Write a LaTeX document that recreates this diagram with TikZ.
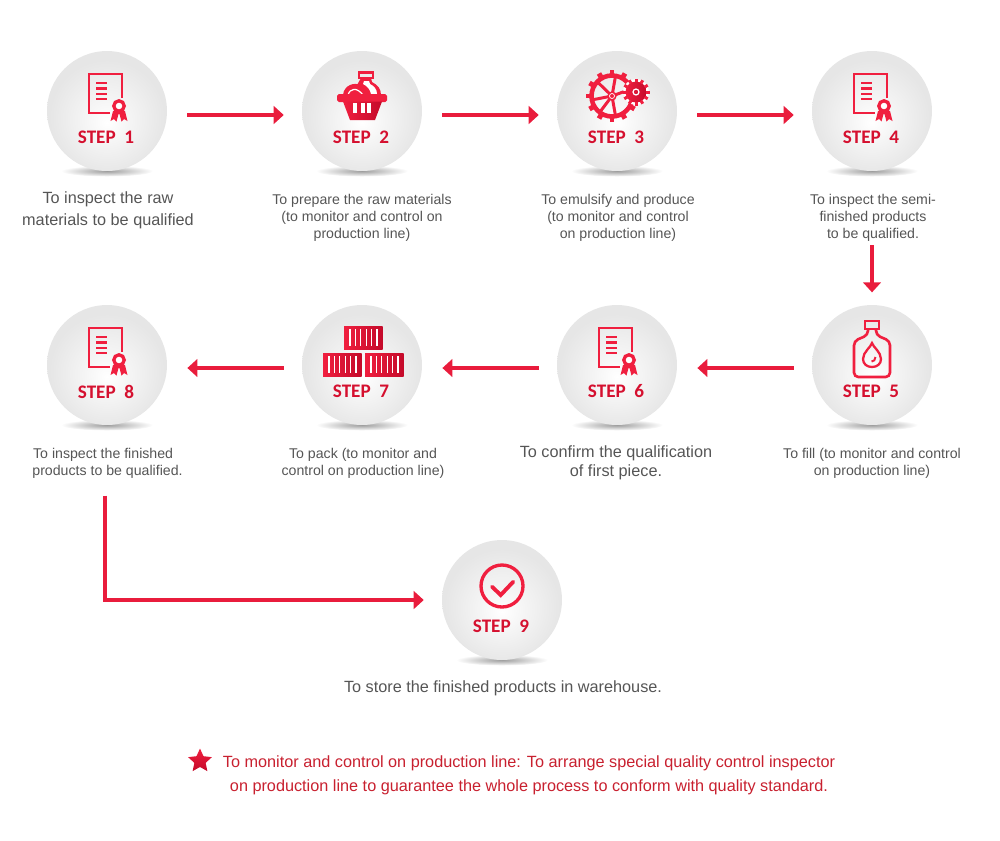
\documentclass[tikz,border=0pt]{standalone}
\usepackage{fontspec}
\setmainfont{Liberation Sans}
\newfontfamily\stepfont{Carlito}
\usetikzlibrary{arrows.meta,shapes.geometric}
\definecolor{flowred}{HTML}{E91C3C}
\definecolor{iconred}{HTML}{F01F3F}
\definecolor{icondark}{HTML}{C40A2A}
\definecolor{steptext}{HTML}{D5102F}
\definecolor{bodygray}{HTML}{555555}
\definecolor{notered}{HTML}{C8202F}
\definecolor{discgray}{HTML}{E6E6E6}
\pgfdeclareradialshading{discshade}{\pgfpoint{0bp}{-5bp}}{color(0bp)=(white); color(9bp)=(white!60!discgray); color(24bp)=(discgray); color(50bp)=(discgray)}
\tikzset{
 stepdisc/.style={circle,minimum size=2.4cm,inner sep=0pt,shading=discshade},
 steplabel/.style={text=steptext,font=\stepfont\bfseries\fontsize{10.9}{12}\selectfont},
 flow/.style={draw=flowred,line width=2.1pt,-{Triangle[length=5.7pt,width=10pt]},shorten <=11.4pt,shorten >=10.2pt},
 backflow/.style={flow,shorten <=10.2pt,shorten >=11.4pt},
 iconline/.style={draw=iconred,line width=1.35pt},
 bigtext/.style={text=bodygray,align=center,font=\fontsize{9.25}{12.5}\selectfont},
 smalltext/.style={text=bodygray,align=center,font=\fontsize{8.05}{9.7}\selectfont},
 notetext/.style={text=notered,align=center,font=\fontsize{9.25}{13.6}\selectfont},
 pics/certicon/.style={code={
  \draw[iconline] (3,2) -- (-18,2) -- (-18,-37) -- (15,-37) -- (15,-13);
  \foreach\lineY in {-28,-22.5,-17,-12}{
   \draw[iconline] (-11,\lineY) -- (0,\lineY);
  }
  \fill[iconred] (6,0) -- (3.5,10) -- (7,8) -- (9.5,10.5) -- (11.5,3) -- (12.5,3) -- (14.5,10.5) -- (17,8) -- (20.5,10) -- (18,0) -- cycle;
  \draw[draw=iconred,fill=white,line width=1.9pt] (12,-5) circle (5.2);
 }},
 pics/basketicon/.style={code={
  \draw[iconline] (-3,-38.5) rectangle (11,-33);
  \fill[iconred] (-1,-33) -- (9,-33) -- (10,-29) .. controls (16,-26) and (19,-22) .. (19,-16) -- (-6,-16) -- (-5,-26) -- cycle;
  \fill[white] (2,-30) -- (7,-30) -- (8,-27) .. controls (12,-25) and (15,-22) .. (15,-17) -- (9,-17) .. controls (8,-22) and (5,-25) .. (1,-27) -- cycle;
  \fill[iconred] (-19,-16) .. controls (-18,-26) and (-8,-29) .. (-1,-26) .. controls (4,-24) and (8,-20) .. (8,-16) -- cycle;
  \draw[white,line width=.7pt] (-14,-16) .. controls (-12,-23) and (-5,-24) .. (1,-16);
  \fill[iconred,rounded corners=1pt] (-25,-17) rectangle (25,-9);
  \shade[left color=iconred,right color=icondark] (-19,-9.5) -- (-12,9) -- (13,9) -- (20,-9.5) -- cycle;
  \foreach\barX in {-9,-1,5}{
   \fill[white] (\barX,-8) rectangle (\barX+3.6,2);
  }
 }},
 pics/gearicon/.style={code={
  \begin{scope}[shift={(-5,-15)}]
   \draw[iconline,line width=2.6pt] (0,0) circle (20.5);
   \foreach\ang in {0,30,...,330}{
    \draw[iconred,line width=2.8pt] (\ang:21) -- (\ang:26);
   }
   \foreach\ang in {80,127,169,224,280,340}{
    \draw[iconred,line width=1.7pt] (\ang:3) -- (\ang:20);
   }
   \draw[iconline,fill=iconred,line width=.7pt] (0,0) circle (4);
   \draw[white,line width=.4pt] (0,0) circle (2.5);
  \end{scope}
  \begin{scope}[shift={(19,-19)}]
   \fill[white] (0,0) circle (13);
   \shade[left color=iconred,right color=icondark] (0,0) circle (10.5);
   \foreach\ang in {0,30,...,330}{
    \draw[iconred,line width=1.7pt] (\ang:10) -- (\ang:13.5);
   }
   \draw[white,line width=.7pt] (0,0) circle (3);
  \end{scope}
 }},
 pics/bottleicon/.style={code={
  \draw[iconline,line width=1.5pt] (-7,-44) rectangle (7,-36);
  \draw[iconline,line width=1.5pt,rounded corners=2.5pt] (-4,-36) -- (-4,-30) -- (-18,-24) -- (-18,12) -- (18,12) -- (18,-24) -- (4,-30) -- (4,-36);
  \draw[iconline,line width=1.3pt] (0,-22) .. controls (-1,-18) and (-9,-13) .. (-9,-6) .. controls (-9,-1) and (-5,2) .. (0,2) .. controls (5,2) and (9,-1) .. (9,-6) .. controls (9,-13) and (1,-18) .. (0,-22) -- cycle;
  \draw[iconline,line width=1.1pt] (3.5,-8) .. controls (3.5,-5) and (1.5,-3.5) .. (-.5,-3.5);
 }},
 pics/crateicon/.style={code={
  \shade[left color=iconred,right color=icondark] (0,0) rectangle (38.5,23);
  \foreach\barX in {6,11.4,...,33}{
   \draw[white,line width=.6pt] (\barX,3) -- (\barX,20);
  }
 }},
 pics/checkicon/.style={code={
  \draw[iconline,line width=1.9pt] (0,-14) circle (21);
  \draw[iconline,line width=2.2pt,line cap=round] (-10,-13.3) -- (-1.3,-5) -- (11.3,-18.3);
 }},
}
\begin{document}
\begin{tikzpicture}[x=0.02cm,y=-0.02cm]
\useasboundingbox (0,0) rectangle (1000,840);
\foreach\n/\x/\y in {1/107/111,2/362/111,3/617/111,4/872/111,5/872/365,6/617/365,7/362/365,8/107/365,9/502/600}{
 \shade[inner color=black!38,outer color=white] (\x,\y+60) ellipse (46 and 5.5);
 \node[stepdisc] (s\n) at (\x,\y) {};
 \node[steplabel] (l\n) at (\x-1,\y+26.5) {STEP\ \ \n};
}
\pic (i1) at (s1) {certicon};
\pic (i2) at (s2) {basketicon};
\pic (i3) at (s3) {gearicon};
\pic (i4) at (s4) {certicon};
\pic (i5) at (s5) {bottleicon};
\pic (i6) at (s6) {certicon};
\pic (i7a) at (344,326) {crateicon};
\pic (i7b) at (323,353) {crateicon};
\pic (i7c) at (365,353) {crateicon};
\pic (i8) at (s8) {certicon};
\pic (i9) at (s9) {checkicon};
\node[bigtext] (t1) at (108,210) {To inspect the raw\\materials to be qualified};
\node[smalltext] (t2) at (362,218) {To prepare the raw materials\\(to monitor and control on\\production line)};
\node[smalltext] (t3) at (618,218) {To emulsify and produce\\(to monitor and control\\on production line)};
\node[smalltext] (t4) at (873,218) {To inspect the semi-\\finished products\\to be qualified.};
\node[smalltext] (t5) at (872,463.5) {To fill (to monitor and control\\on production line)};
\node[bigtext] (t6) at (616,463) {To confirm the qualification\\[-1.7pt]of first piece.};
\node[smalltext] (t7) at (363,463.5) {To pack (to monitor and\\control on production line)};
\node[smalltext] (t8) at (107.5,463.5) {To inspect the finished\hspace*{5pt}\\products to be qualified.};
\node[bigtext] (t9) at (503,688) {To store the finished products in warehouse.};
\node[star,star points=5,star point ratio=2.1,minimum size=.5cm,inner sep=0pt,top color=iconred,bottom color=icondark] (mark) at (200,761) {};
\node[notetext] (note) at (529,775) {To monitor and control on production line: To arrange special quality control inspector\\on production line to guarantee the whole process to conform with quality standard.};
\draw[flow] ([yshift=-.08cm]s1.east) -- ([yshift=-.08cm]s2.west);
\draw[flow] ([yshift=-.08cm]s2.east) -- ([yshift=-.08cm]s3.west);
\draw[flow] ([yshift=-.08cm]s3.east) -- ([yshift=-.08cm]s4.west);
\draw[flow,shorten <=42pt,shorten >=7pt] (s4.south) -- (s5.north);
\draw[backflow] ([yshift=-.06cm]s5.west) -- ([yshift=-.06cm]s6.east);
\draw[backflow] ([yshift=-.06cm]s6.west) -- ([yshift=-.06cm]s7.east);
\draw[backflow] ([yshift=-.06cm]s7.west) -- ([yshift=-.06cm]s8.east);
\draw[flow,shorten <=40pt] ([xshift=-.04cm]s8.south) |- (s9.west);
\end{tikzpicture}
\end{document}
